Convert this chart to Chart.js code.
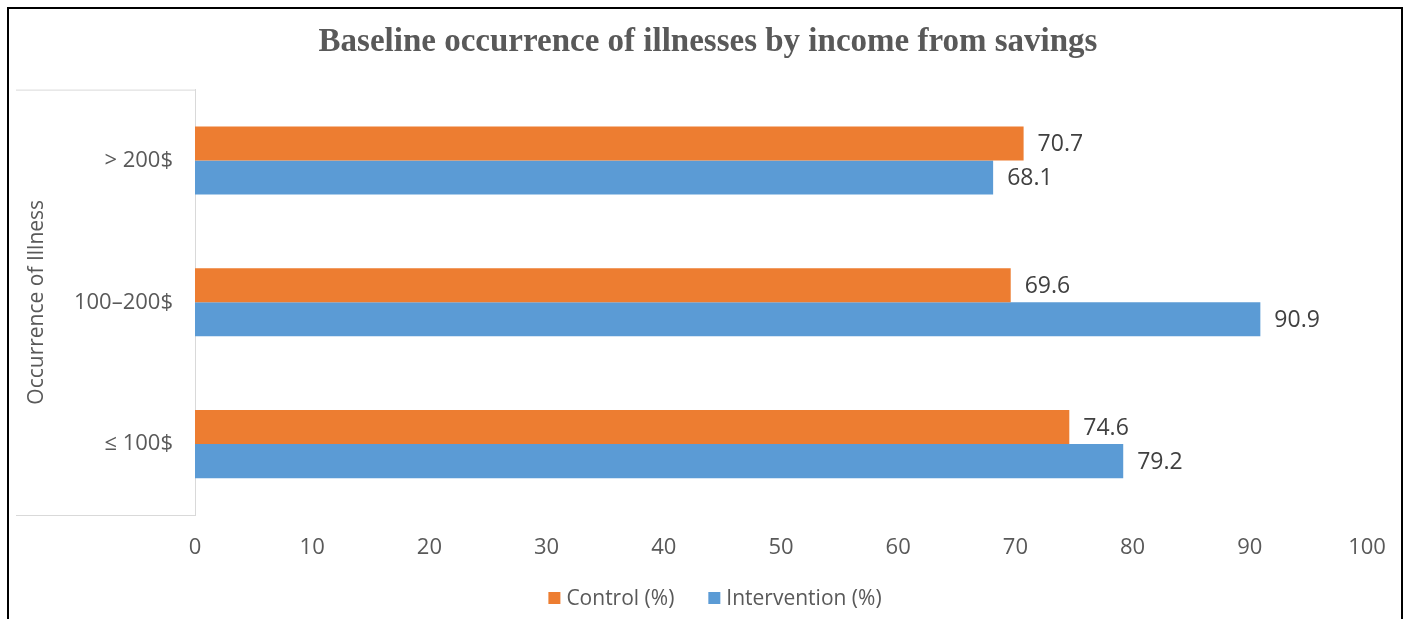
<!DOCTYPE html>
<html>
<head>
<meta charset="utf-8">
<script src="https://cdn.jsdelivr.net/npm/chart.js@4/dist/chart.umd.min.js"></script>
<style>
  body { margin: 0; background: #fff; }
  #wrap { position: relative; width: 1410px; height: 619px; }
  #frame {
    position: absolute; left: 7px; top: 7px; width: 1396px; height: 640px;
    border: 2px solid #000; box-sizing: border-box; pointer-events: none;
  }
</style>
</head>
<body>
<div id="wrap">
  <canvas id="chart" width="1410" height="619"></canvas>
  <div id="frame"></div>
</div>
<script>
const categories = ['> 200$', '100–200$', '≤ 100$'];
const controlValues = [70.7, 69.6, 74.6];
const interventionValues = [68.1, 90.9, 79.2];
const xTicks = [0, 10, 20, 30, 40, 50, 60, 70, 80, 90, 100];

const textGrey = '#595959';
const font = '"Open Sans", "Noto Sans", sans-serif';

// value labels at the end of each bar
const valueLabels = {
    id: 'valueLabels',
    afterDatasetsDraw(chart) {
        const ctx = chart.ctx;
        ctx.save();
        ctx.font = '23px ' + font;
        ctx.fillStyle = '#404040';
        ctx.textBaseline = 'middle';
        chart.data.datasets.forEach((ds, i) => {
            chart.getDatasetMeta(i).data.forEach((bar, j) => {
                ctx.fillText(ds.data[j].toFixed(1), bar.x + 14, bar.y + 1);
            });
        });
        ctx.restore();
    }
};

// light grey box around the category axis area
const axisBox = {
    id: 'axisBox',
    beforeDraw(chart) {
        const a = chart.chartArea;
        const ctx = chart.ctx;
        ctx.save();
        ctx.strokeStyle = '#d9d9d9';
        ctx.lineWidth = 1;
        ctx.beginPath();
        ctx.moveTo(16, a.top + 0.5);
        ctx.lineTo(a.left, a.top + 0.5);
        ctx.moveTo(16, a.bottom + 0.5);
        ctx.lineTo(a.left, a.bottom + 0.5);
        ctx.stroke();
        ctx.restore();
    }
};

// legend centred under the chart, wide gap between items like the original
const bottomLegend = {
    id: 'bottomLegend',
    afterDraw(chart) {
        const ctx = chart.ctx;
        const box = 12, gap = 6, itemGap = 34;
        ctx.save();
        ctx.font = '21px ' + font;
        ctx.textBaseline = 'middle';
        const items = chart.data.datasets.map(ds => ({
            text: ds.label, color: ds.backgroundColor, w: ctx.measureText(ds.label).width
        }));
        const total = items.reduce((s, it) => s + box + gap + it.w, 0) + itemGap * (items.length - 1);
        let x = 715 - total / 2;
        const y = 598;
        items.forEach(it => {
            ctx.fillStyle = it.color;
            ctx.fillRect(x, y - box / 2, box, box);
            ctx.fillStyle = textGrey;
            ctx.fillText(it.text, x + box + gap, y + 1);
            x += box + gap + it.w + itemGap;
        });
        ctx.restore();
    }
};

new Chart(document.getElementById('chart'), {
    type: 'bar',
    data: {
        labels: categories,
        datasets: [
            { label: 'Control (%)', data: controlValues, backgroundColor: '#ED7D31' },
            { label: 'Intervention (%)', data: interventionValues, backgroundColor: '#5B9BD5' }
        ]
    },
    options: {
        indexAxis: 'y',
        responsive: false,
        animation: false,
        datasets: { bar: { categoryPercentage: 0.48, barPercentage: 1.0 } },
        layout: { padding: { left: 8, right: 2, top: 0, bottom: 39 } },
        plugins: {
            title: {
                display: true,
                text: 'Baseline occurrence of illnesses by income from savings',
                color: textGrey,
                font: { family: '"Liberation Serif", "Times New Roman", serif', size: 33, weight: 'bold' },
                padding: { top: 23, bottom: 27 }
            },
            legend: { display: false },
            tooltip: { enabled: false }
        },
        scales: {
            x: {
                min: 0,
                max: 100,
                afterBuildTicks: (s) => { s.ticks = xTicks.map(v => ({ value: v })); },
                afterFit: (s) => { s.height = 65; s.paddingRight = 43; },
                grid: { display: false, drawTicks: false },
                border: { display: false },
                ticks: { color: textGrey, font: { family: font, size: 22 }, padding: 20 }
            },
            y: {
                afterFit: (s) => { s.width = 187; },
                grid: { display: false, drawTicks: false },
                border: { display: true, color: '#d9d9d9', width: 1 },
                ticks: { color: textGrey, font: { family: font, size: 22 }, padding: 22 },
                title: {
                    display: true,
                    text: 'Occurrence of Illness',
                    color: textGrey,
                    font: { family: font, size: 21 },
                    padding: { top: 16, bottom: 0 }
                }
            }
        }
    },
    plugins: [valueLabels, axisBox, bottomLegend]
});
</script>
</body>
</html>
